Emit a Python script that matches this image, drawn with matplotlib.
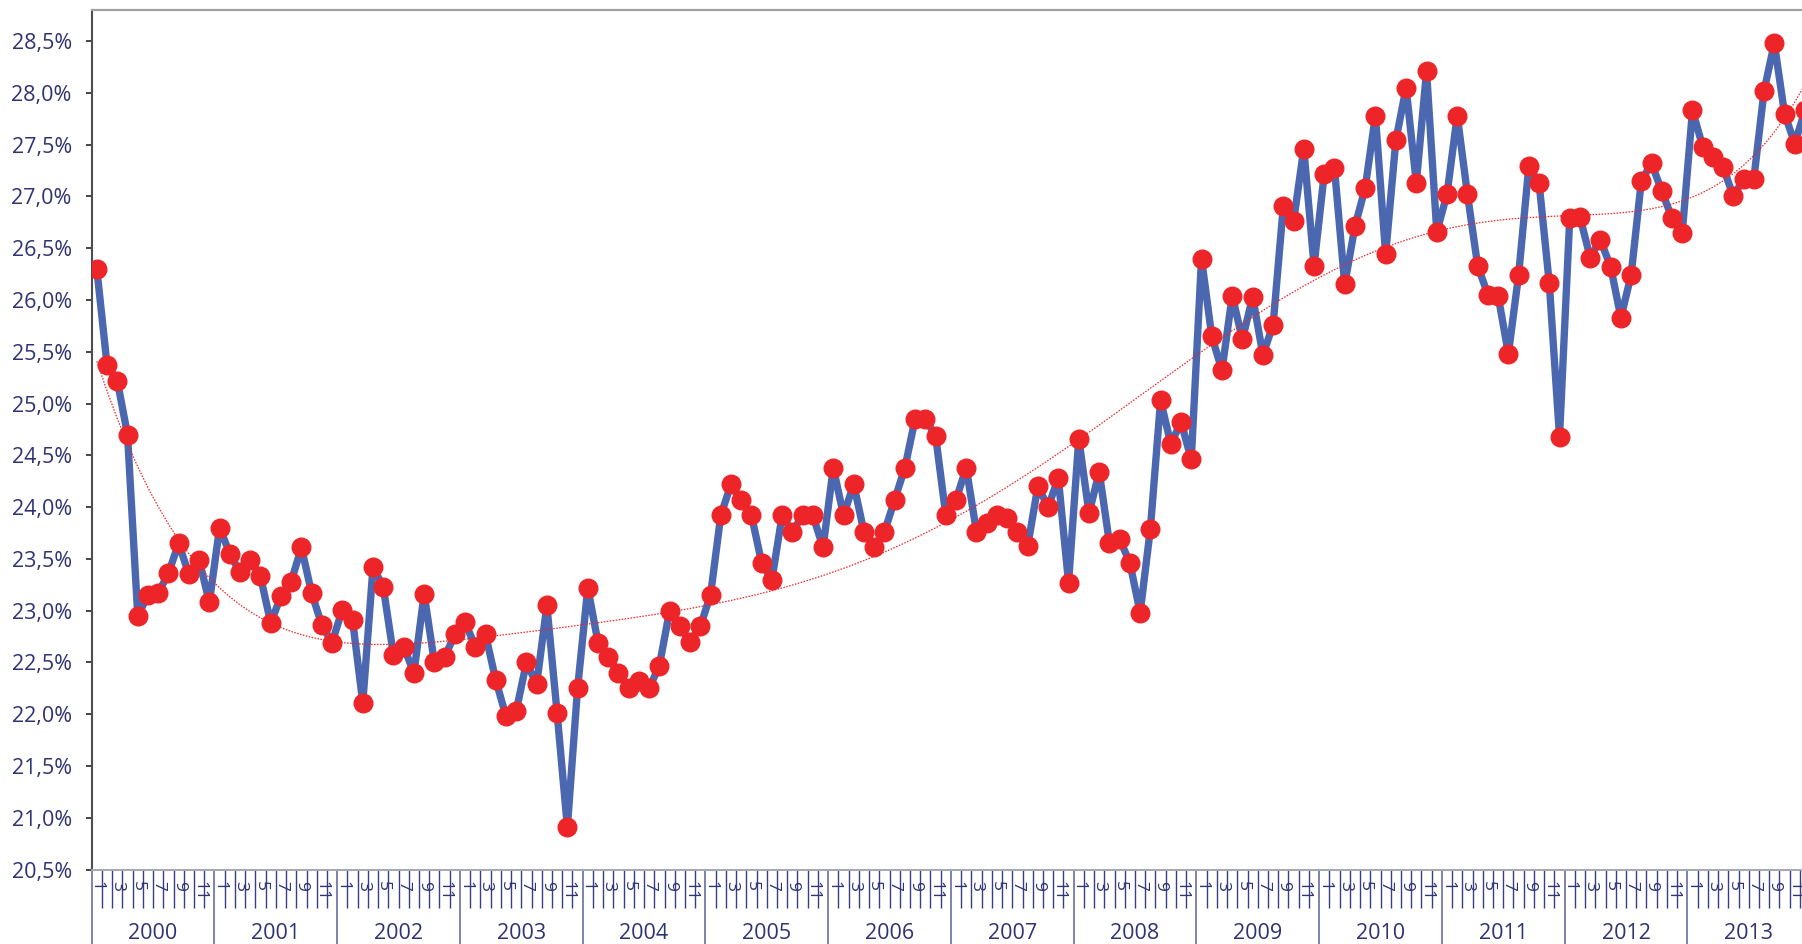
import numpy as np
import matplotlib.pyplot as plt
import matplotlib.transforms as mtransforms

# monthly values (%), Jan..Dec per year
y2000 = [26.30, 25.37, 25.22, 24.70, 22.95, 23.15, 23.17, 23.36, 23.65, 23.35, 23.49, 23.08]
y2001 = [23.80, 23.55, 23.37, 23.49, 23.33, 22.88, 23.14, 23.28, 23.61, 23.17, 22.86, 22.69]
y2002 = [23.01, 22.91, 22.11, 23.42, 23.23, 22.57, 22.65, 22.40, 23.16, 22.50, 22.55, 22.77]
y2003 = [22.89, 22.65, 22.77, 22.33, 21.98, 22.03, 22.50, 22.29, 23.05, 22.01, 20.91, 22.25]
y2004 = [23.22, 22.69, 22.55, 22.40, 22.25, 22.32, 22.25, 22.47, 23.00, 22.85, 22.70, 22.85]
y2005 = [23.15, 23.92, 24.22, 24.07, 23.92, 23.46, 23.30, 23.92, 23.76, 23.92, 23.92, 23.61]
y2006 = [24.38, 23.92, 24.22, 23.76, 23.61, 23.76, 24.07, 24.38, 24.85, 24.85, 24.69, 23.92]
y2007 = [24.07, 24.38, 23.76, 23.85, 23.92, 23.89, 23.76, 23.62, 24.20, 24.00, 24.28, 23.27]
y2008 = [24.66, 23.94, 24.34, 23.65, 23.69, 23.46, 22.98, 23.79, 25.03, 24.61, 24.82, 24.46]
y2009 = [26.40, 25.65, 25.32, 26.04, 25.62, 26.03, 25.47, 25.76, 26.91, 26.76, 27.46, 26.33]
y2010 = [27.22, 27.27, 26.15, 26.71, 27.08, 27.78, 26.44, 27.54, 28.05, 27.13, 28.21, 26.66]
y2011 = [27.02, 27.78, 27.02, 26.33, 26.05, 26.04, 25.48, 26.24, 27.29, 27.13, 26.16, 24.68]
y2012 = [26.79, 26.80, 26.41, 26.58, 26.32, 25.83, 26.24, 27.15, 27.32, 27.05, 26.79, 26.65]
y2013 = [27.83, 27.48, 27.38, 27.28, 27.00, 27.17, 27.17, 28.02, 28.48, 27.80, 27.51, 27.83]

years = ['2000', '2001', '2002', '2003', '2004', '2005', '2006',
         '2007', '2008', '2009', '2010', '2011', '2012', '2013']
month_labels = ['1', '', '3', '', '5', '', '7', '', '9', '', '11', '']

values = np.array(y2000 + y2001 + y2002 + y2003 + y2004 + y2005 + y2006 +
                  y2007 + y2008 + y2009 + y2010 + y2011 + y2012 + y2013)
x = np.arange(len(values))

# polynomial trend line (order 6) fitted to the series
trend = np.polynomial.Polynomial.fit(x, values, 6)

navy = '#2f3373'
plt.rcParams['font.family'] = ['Open Sans', 'DejaVu Sans']

fig = plt.figure(figsize=(18.02, 9.44), dpi=100)
ax = fig.add_axes([0.0509, 0.0789, 0.9536, 0.9105])

ax.plot(x, values, color='#4a67b0', lw=5.3, zorder=2, solid_joinstyle='round')
ax.plot(x, values, ls='none', marker='o', ms=13.4, color='#ee2528', zorder=3)
ax.plot(x, trend(x), color='#ee2528', lw=0.9, ls=(0, (1.2, 1.2)), zorder=4)

ax.set_xlim(-0.5, len(values) - 0.5)
ax.set_ylim(20.5, 28.8)

yt = np.arange(20.5, 28.51, 0.5)
ax.set_yticks(yt)
ax.set_yticklabels([f'{v:.1f}%'.replace('.', ',') for v in yt])
ax.tick_params(axis='y', direction='out', length=4.3, width=1.4, color='#444444',
               pad=10, labelsize=15.5, labelcolor=navy)

# x axis: long ticks at year boundaries, short ticks at month boundaries
year_edges = np.arange(0, len(values) + 1, 12) - 0.5
month_edges = [e for e in np.arange(len(values) + 1) - 0.5 if e not in year_edges]
ax.set_xticks(year_edges)
ax.set_xticks(month_edges, minor=True)
ax.set_xticklabels([])
ax.tick_params(axis='x', which='major', direction='out', length=56, width=1.2, color='#6a6e9e')
ax.tick_params(axis='x', which='minor', direction='out', length=27.4, width=1.0, color='#3a3e80')

trans_m = mtransforms.offset_copy(ax.get_xaxis_transform(), fig=fig, y=-8.0, units='points')
trans_y = mtransforms.offset_copy(ax.get_xaxis_transform(), fig=fig, y=-46, units='points')
for i in range(len(values)):
    lab = month_labels[i % 12]
    if lab:
        ax.text(i, 0, lab, rotation=270, ha='center', va='top', fontsize=12.5,
                color=navy, transform=trans_m)
for k, yr in enumerate(years):
    ax.text(k * 12 + 5.5, 0, yr, ha='center', va='center', fontsize=15.5,
            color=navy, transform=trans_y)

ax.spines['right'].set_visible(False)
ax.spines['left'].set_color('#4d4d4d')
ax.spines['left'].set_linewidth(1.5)
ax.spines['top'].set_color('#a0a0a0')
ax.spines['top'].set_linewidth(1.6)
ax.spines['bottom'].set_color('#a4a6b4')
ax.spines['bottom'].set_linewidth(1.4)

plt.savefig('out.png', dpi=100)
